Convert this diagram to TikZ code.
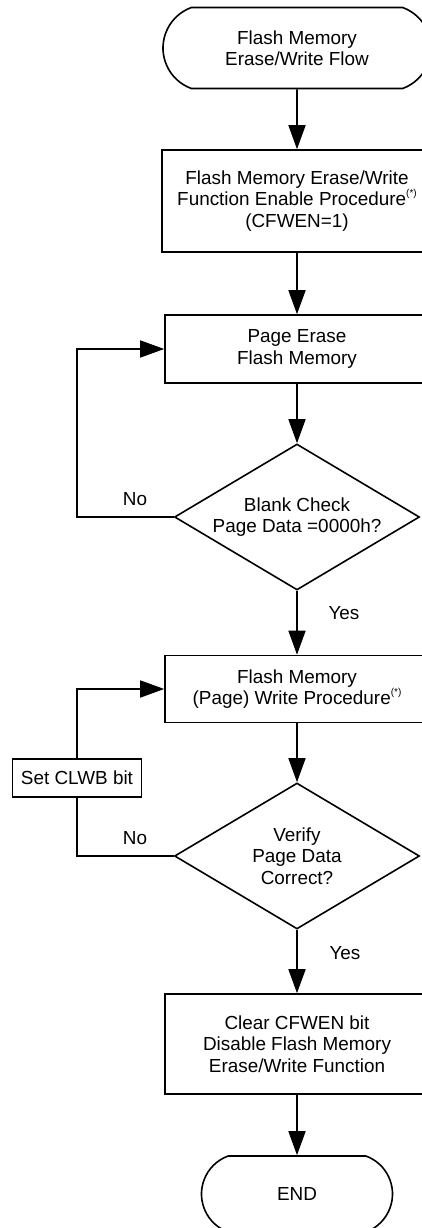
\documentclass[tikz,border=0pt]{standalone}
\usepackage{fontspec}
\setmainfont{Liberation Sans}
\usetikzlibrary{shapes.geometric,shapes.misc,arrows.meta}

% small raised (*) mark
\newcommand{\starmark}{\raisebox{0.5em}{\fontsize{10}{10}\selectfont(*)}}

\begin{document}
\begin{tikzpicture}[x=1pt,y=-1pt,
    font=\fontsize{18.9}{21.5}\selectfont,
    line width=1.6pt,
    terminal/.style={draw, rounded rectangle, rounded rectangle arc length=140, inner sep=0pt, align=center},
    process/.style={draw, rectangle, minimum width=264pt, inner sep=0pt, align=center},
    decision/.style={draw, diamond, aspect=1.67, minimum width=245pt, minimum height=146pt, inner sep=0pt, align=center},
    flow/.style={-{Triangle[length=24pt,width=17pt]}},
    lbl/.style={inner sep=0pt}
  ]
\useasboundingbox (0,0) rectangle (422,1228);

% Main column
\node[terminal, minimum width=268pt, minimum height=81pt] (start) at (297,48) {Flash Memory\\Erase/Write Flow};
\node[process, minimum width=270pt, minimum height=102pt] (enable) at (297,201) {Flash Memory Erase/Write\\Function Enable Procedure\starmark\\(CFWEN=1)};
\node[process, minimum height=68pt] (erase) at (297,349) {Page Erase\\Flash Memory};
\node[decision] (check) at (297,517) {Blank Check\\Page Data =0000h?};
\node[process, minimum height=67pt] (write) at (297,689) {Flash Memory\\(Page) Write Procedure\starmark};
\node[decision] (verify) at (297,856) {Verify\\Page Data\\Correct?};
\node[process, minimum height=100pt] (clear) at (297,1044) {Clear CFWEN bit\\Disable Flash Memory\\Erase/Write Function};
\node[terminal, minimum width=191pt, minimum height=76pt] (finish) at (297,1194) {END};

% Side box
\node[draw, rectangle, minimum width=129pt, minimum height=38pt, inner sep=0pt] (clwb) at (77,778) {Set CLWB bit};

% Arrows
\draw[flow] (start) -- (enable);
\draw[flow] (enable) -- (erase);
\draw[flow] (erase) -- (check);
\draw[flow] (check) -- (write);
\draw[flow] (write) -- (verify);
\draw[flow] (verify) -- (clear);
\draw[flow] (clear) -- (finish);

% Loops back
\draw[flow] (check.west) -| (clwb.center |- erase.west) -- (erase.west);
\draw (verify.west) -| (clwb.south);
\draw[flow] (clwb.north) |- (write.west);

% Labels
\node[lbl] (no1) at (135,499) {No};
\node[lbl] (yes1) at (344,613) {Yes};
\node[lbl] (no2) at (135,838) {No};
\node[lbl] (yes2) at (345,953) {Yes};
\end{tikzpicture}
\end{document}
